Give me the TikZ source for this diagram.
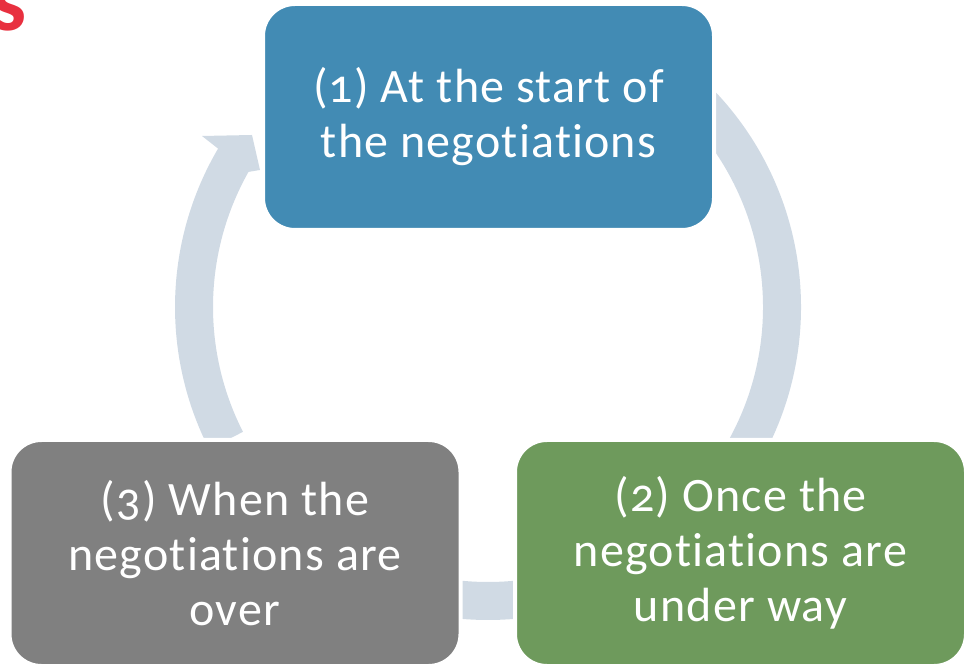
\documentclass[tikz,border=0pt]{standalone}
\usepackage{fontspec}
\setmainfont{Carlito}[Numbers=OldStyle, Ligatures=NoCommon]
\newfontfamily\boxfont{Carlito}[Numbers=OldStyle, Ligatures=NoCommon, LetterSpace=2.5]
\definecolor{boxblue}{HTML}{428BB4}
\definecolor{boxgreen}{HTML}{6E9A5C}
\definecolor{boxgray}{HTML}{808080}
\definecolor{arrowc}{HTML}{D0DAE4}
\definecolor{titlered}{HTML}{E8303F}
\begin{document}
\begin{tikzpicture}[x=1pt,y=1pt,
  cyclebox/.style={draw=white, line width=4pt, rounded corners=32pt,
    minimum width=451pt, minimum height=226pt, text=white, align=center,
    font=\boxfont\fontsize{48}{55}\selectfont, inner sep=0pt},
  arrowshape/.style={fill=arrowc}]
\useasboundingbox (0,0) rectangle (968,664);
\coordinate (C) at (488,357);
% title fragment
\node[text=titlered, font=\fontsize{88}{88}\selectfont\bfseries, anchor=base east, inner sep=0pt] (title) at (27,633) {s};
% arrow 1 -> 2
\fill[arrowshape] ([shift={(50:313)}]C) arc[start angle=50,end angle=-32,radius=313]
  -- ([shift={(-32:275)}]C) arc[start angle=-32,end angle=50,radius=275] -- cycle;
% arrow 2 -> 3
\fill[arrowshape] ([shift={(240:313)}]C) arc[start angle=240,end angle=300,radius=313]
  -- ([shift={(300:275)}]C) arc[start angle=300,end angle=240,radius=275] -- cycle;
% arrow 3 -> 1 with head
\coordinate (hi) at (248,492);
\coordinate (hc) at (260,494);
\coordinate (ht) at (252,529);
\coordinate (ho) at (202,528);
\fill[arrowshape] ([shift={(207:275)}]C) arc[start angle=207,end angle=150.6,radius=275]
  -- (hi) -- (hc) -- (ht) -- (ho)
  -- ([shift={(149.6:313)}]C) arc[start angle=149.6,end angle=207,radius=313] -- cycle;
% boxes
\node[cyclebox, fill=boxblue] (n1) at (488.5,547) {(1) At the start of\\the negotiations};
\node[cyclebox, fill=boxgreen] (n2) at (740.5,111) {(2) Once the\\negotiations are\\under way};
\node[cyclebox, fill=boxgray] (n3) at (235,111) {(3) When the\\negotiations are\\over};
\end{tikzpicture}
\end{document}
